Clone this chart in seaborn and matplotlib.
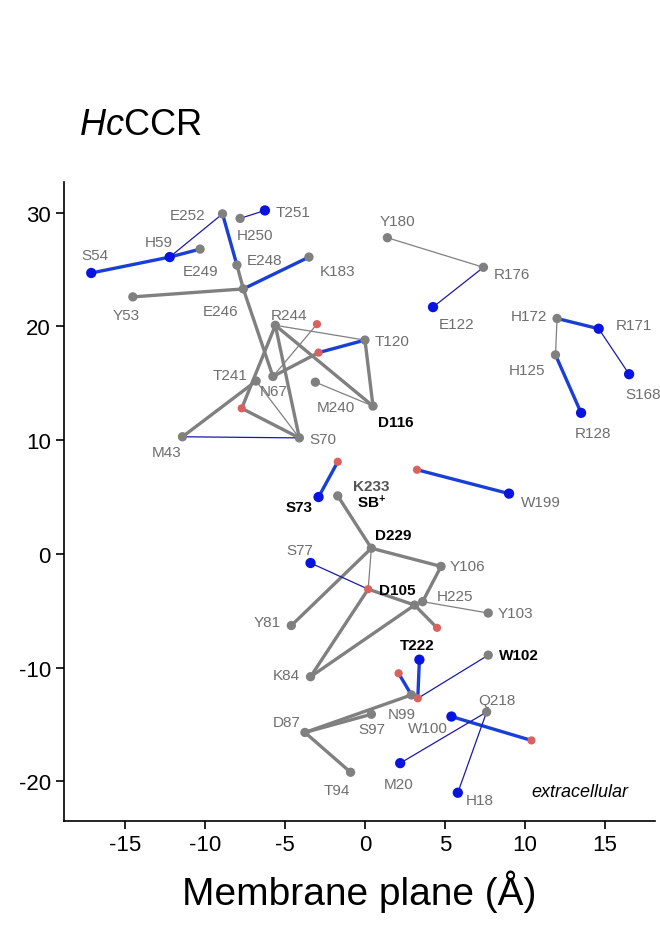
import matplotlib
matplotlib.use("Agg")
import matplotlib.pyplot as plt
import seaborn as sns
import pandas as pd

sns.set_style("ticks")
plt.rcParams.update({
    "font.family": "Liberation Sans",
    "axes.unicode_minus": False,
    "text.color": "black",
    "axes.labelcolor": "black",
    "xtick.color": "black",
    "ytick.color": "black",
    "axes.edgecolor": "black",
    "mathtext.fontset": "custom",
    "mathtext.it": "Liberation Sans:italic",
    "mathtext.rm": "Liberation Sans",
    "mathtext.bf": "Liberation Sans:bold",
})

GRAY = "#808080"
BLUE = "#1a3fd6"
NAVY = "#1a1aa8"
RED = "#d9625e"
DOT_BLUE = "#0a14e0"

# node name, x, y, kind (g = gray residue, b = blue water/residue, r = red water)
nodes = [
    ("S54", -17.1, 24.7, "b"), ("H59", -12.2, 26.1, "b"), ("E249", -10.3, 26.8, "g"),
    ("E252", -8.9, 29.9, "g"), ("H250", -7.8, 29.5, "g"), ("T251", -6.25, 30.2, "b"),
    ("E248", -8.0, 25.4, "g"), ("K183", -3.5, 26.1, "g"), ("E246", -7.6, 23.3, "g"),
    ("Y53", -14.5, 22.6, "g"), ("R244", -5.6, 20.1, "g"), ("w1", -3.0, 20.2, "r"),
    ("w2", -2.9, 17.7, "r"), ("T120", 0.0, 18.8, "g"), ("T241", -6.8, 15.2, "g"),
    ("N67", -5.75, 15.6, "g"), ("M240", -3.1, 15.1, "g"), ("D116", 0.5, 13.0, "g"),
    ("w3", -7.7, 12.8, "r"), ("M43", -11.4, 10.3, "g"), ("S70", -4.1, 10.2, "g"),
    ("Y180", 1.4, 27.8, "g"), ("R176", 7.4, 25.2, "g"), ("E122", 4.25, 21.7, "b"),
    ("H172", 12.0, 20.7, "g"), ("R171", 14.6, 19.8, "b"), ("S168", 16.5, 15.8, "b"),
    ("H125", 11.9, 17.5, "g"), ("R128", 13.5, 12.4, "b"),
    ("w4", -1.7, 8.1, "r"), ("S73", -2.9, 5.0, "b"), ("K233", -1.7, 5.1, "g"),
    ("w5", 3.25, 7.4, "r"), ("W199", 9.0, 5.3, "b"), ("D229", 0.4, 0.5, "g"),
    ("S77", -3.4, -0.8, "b"), ("Y106", 4.75, -1.1, "g"), ("D105", 0.2, -3.1, "r"),
    ("H225", 3.6, -4.2, "g"), ("n1", 3.1, -4.5, "g"), ("Y103", 7.7, -5.2, "g"),
    ("w6", 4.5, -6.5, "r"), ("Y81", -4.6, -6.3, "g"), ("T222", 3.4, -9.3, "b"),
    ("W102", 7.7, -8.9, "g"), ("K84", -3.4, -10.8, "g"), ("w7", 2.1, -10.5, "r"),
    ("N99", 2.9, -12.4, "g"), ("w8", 3.3, -12.7, "r"), ("S97", 0.4, -14.1, "g"),
    ("D87", -3.75, -15.7, "g"), ("Q218", 7.6, -13.9, "g"), ("W100", 5.4, -14.3, "b"),
    ("w9", 10.4, -16.4, "r"), ("M20", 2.2, -18.4, "b"), ("H18", 5.8, -21.0, "b"),
    ("T94", -0.9, -19.2, "g"),
]

# edges: a, b, style (G thick gray, g thin gray, B thick blue, n thin navy)
edges = [
    ("S54", "H59", "B"), ("H59", "E249", "B"), ("H59", "E252", "n"), ("T251", "H250", "n"),
    ("E252", "E248", "B"), ("E248", "E246", "G"), ("E246", "K183", "B"), ("Y53", "E246", "G"),
    ("E246", "N67", "G"), ("R244", "w3", "G"), ("R244", "S70", "G"), ("R244", "D116", "G"),
    ("R244", "T120", "g"), ("N67", "w2", "G"), ("w2", "T120", "B"), ("w1", "N67", "g"),
    ("T120", "D116", "G"), ("M240", "D116", "g"), ("T241", "M43", "G"), ("T241", "S70", "g"),
    ("w3", "S70", "G"), ("M43", "S70", "n"), ("Y180", "R176", "g"), ("R176", "E122", "n"),
    ("H172", "R171", "B"), ("H172", "H125", "g"), ("H125", "R128", "B"), ("R171", "S168", "n"),
    ("w4", "S73", "B"), ("w5", "W199", "B"), ("K233", "D229", "G"), ("D229", "Y106", "G"),
    ("Y106", "H225", "G"), ("D229", "Y81", "G"), ("D229", "D105", "g"), ("S77", "D105", "n"),
    ("D105", "n1", "G"), ("n1", "w6", "G"), ("H225", "Y103", "g"), ("D105", "K84", "G"),
    ("K84", "n1", "G"), ("T222", "w8", "B"), ("w7", "N99", "B"), ("w8", "W102", "n"),
    ("N99", "D87", "G"), ("D87", "S97", "G"), ("D87", "T94", "G"), ("N99", "w8", "G"),
    ("W100", "w9", "B"), ("M20", "Q218", "n"), ("H18", "Q218", "n"),
]

# label text, x, y, style (0 gray, 1 bold black, 2 bold dark gray)
labels = [
    ("S54", -16.9, 26.3, 0), ("H59", -12.9, 27.4, 0), ("E249", -10.3, 24.9, 0),
    ("E252", -11.1, 29.8, 0), ("H250", -6.9, 28.0, 0), ("T251", -4.5, 30.1, 0),
    ("E248", -6.25, 25.8, 0), ("K183", -1.7, 24.9, 0), ("Y53", -14.9, 21.0, 0),
    ("E246", -9.0, 21.4, 0), ("R244", -4.75, 21.0, 0), ("T120", 1.7, 18.75, 0),
    ("T241", -8.4, 15.7, 0), ("N67", -5.7, 14.3, 0), ("M240", -1.8, 12.9, 0),
    ("D116", 1.9, 11.6, 1), ("M43", -12.4, 9.0, 0), ("S70", -2.6, 10.1, 0),
    ("Y180", 2.0, 29.3, 0), ("R176", 9.2, 24.6, 0), ("E122", 5.75, 20.2, 0),
    ("H172", 10.25, 20.9, 0), ("R171", 16.8, 20.1, 0), ("H125", 10.1, 16.2, 0),
    ("S168", 17.4, 14.1, 0), ("R128", 14.25, 10.65, 0), ("S73", -4.1, 4.1, 1),
    ("K233", 0.4, 6.0, 2), ("SB$^{\\bf{+}}$", 0.4, 4.6, 1), ("W199", 11.0, 4.6, 0),
    ("D229", 1.75, 1.7, 1), ("S77", -4.1, 0.35, 0), ("D105", 2.0, -3.2, 1),
    ("Y106", 6.4, -1.1, 0), ("H225", 5.6, -3.7, 0), ("Y103", 9.4, -5.2, 0),
    ("Y81", -6.1, -6.0, 0), ("T222", 3.25, -8.0, 1), ("W102", 9.6, -8.9, 1),
    ("K84", -4.9, -10.65, 0), ("N99", 2.3, -14.1, 0), ("S97", 0.4, -15.4, 0),
    ("W100", 3.9, -15.3, 0), ("Q218", 8.25, -12.85, 0), ("D87", -4.9, -14.8, 0),
    ("T94", -1.75, -20.8, 0), ("M20", 2.1, -20.2, 0), ("H18", 7.2, -21.65, 0),
]

df = pd.DataFrame(nodes, columns=["name", "x", "y", "kind"]).set_index("name")

fig = plt.figure(figsize=(6.6, 9.29), dpi=100)
ax = fig.add_axes([0.097, 0.115, 0.895, 0.688])

styles = {"G": (GRAY, 2.4), "g": (GRAY, 0.9), "B": (BLUE, 2.4), "n": (NAVY, 0.9)}
for a, b, s in edges:
    c, lw = styles[s]
    ax.plot([df.loc[a, "x"], df.loc[b, "x"]], [df.loc[a, "y"], df.loc[b, "y"]],
            color=c, lw=lw, zorder=1, solid_capstyle="round")

for kind, col, size in [("g", GRAY, 45), ("b", DOT_BLUE, 55), ("r", RED, 35)]:
    sub = df[df["kind"] == kind]
    sns.scatterplot(x=sub["x"], y=sub["y"], color=col, s=size, edgecolor="none",
                    ax=ax, zorder=3, legend=False)

for t, x, y, st in labels:
    color = {0: "#6e6e6e", 1: "black", 2: "#555555"}[st]
    ax.text(x, y, t, ha="center", va="center", fontsize=11, color=color,
            fontweight="bold" if st else "normal")

ax.text(13.4, -20.9, "extracellular", ha="center", va="center", fontsize=13,
        style="italic", color="black")

ax.set_xlim(-18.8, 18.1)
ax.set_ylim(-23.5, 32.7)
ax.set_xticks([-15, -10, -5, 0, 5, 10, 15])
ax.set_yticks([-20, -10, 0, 10, 20, 30])
ax.tick_params(labelsize=16, length=6, width=1.2)
for sp in ax.spines.values():
    sp.set_linewidth(1.2)
ax.set_xlabel("Membrane plane (Å)", fontsize=28, labelpad=10)
ax.set_ylabel("")
sns.despine(ax=ax)

fig.text(0.12, 0.865, r"$\it{Hc}$CCR", fontsize=26, va="center")

fig.savefig("out.png", dpi=100)
